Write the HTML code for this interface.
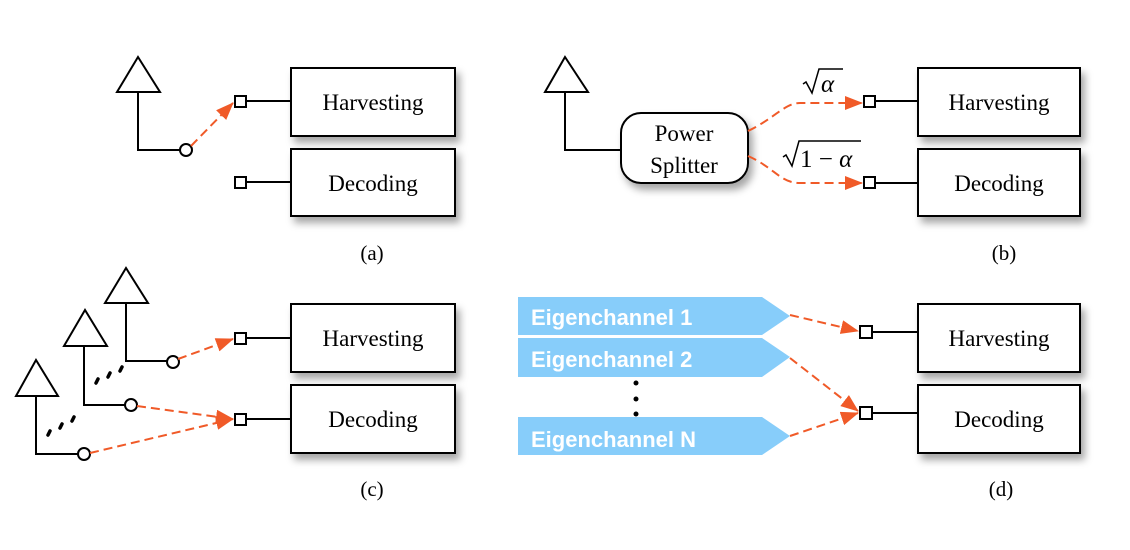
<!DOCTYPE html>
<html><head><style>body{margin:0;background:#fff}svg{display:block}</style></head><body>
<svg width="1130" height="550" viewBox="0 0 1130 550" xmlns="http://www.w3.org/2000/svg">
<defs>
<marker id="ar2" markerWidth="18" markerHeight="14" refX="17" refY="7" orient="auto" markerUnits="userSpaceOnUse" viewBox="0 0 18 14"><path d="M0,0 L18,7 L0,14 z" fill="#f05a28"/></marker>
<filter id="sh" x="-20%" y="-20%" width="150%" height="160%"><feDropShadow dx="4" dy="6" stdDeviation="4" flood-color="#000" flood-opacity="0.35"/></filter>
</defs>
<g font-family="Liberation Serif, serif" font-size="23" fill="#000">
<g fill="#fff" stroke="#000" stroke-width="2" filter="url(#sh)">
<rect x="291" y="68" width="164" height="68"/><rect x="291" y="149" width="164" height="67"/>
<rect x="918" y="68" width="162" height="68"/><rect x="918" y="149" width="162" height="67"/>
<rect x="291" y="304" width="164" height="68"/><rect x="291" y="385" width="164" height="68"/>
<rect x="918" y="304" width="162" height="68"/><rect x="918" y="385" width="162" height="68"/>
<rect x="621" y="113" width="127" height="70" rx="20"/>
</g>
<g text-anchor="middle">
<text x="373" y="110">Harvesting</text><text x="373" y="191">Decoding</text>
<text x="999" y="110">Harvesting</text><text x="999" y="191">Decoding</text>
<text x="373" y="346">Harvesting</text><text x="373" y="427">Decoding</text>
<text x="999" y="346">Harvesting</text><text x="999" y="427">Decoding</text>
<text x="684" y="141">Power</text><text x="684" y="173">Splitter</text>
<text x="372" y="260" font-size="21">(a)</text><text x="1004" y="260" font-size="21">(b)</text>
<text x="372" y="496" font-size="21">(c)</text><text x="1001" y="496" font-size="21">(d)</text>
</g>
<g fill="none" stroke="#000" stroke-width="2">
<path d="M138,57 L117,92 L160,92 Z M138,92 V150 H180"/><circle cx="186" cy="150" r="6" fill="#fff"/>
<rect x="235" y="96" width="11" height="11"/><path d="M246,101 H291"/>
<rect x="235" y="177" width="11" height="11"/><path d="M246,182 H291"/>
<path d="M565,57 L545,92 L588,92 Z M565,92 V150 H621"/>
<rect x="864" y="96" width="11" height="11"/><path d="M875,101 H918"/>
<rect x="864" y="177" width="11" height="11"/><path d="M875,183 H918"/>
<path d="M126,268 L105,303 L148,303 Z M126,303 V361 H167"/><circle cx="173" cy="362" r="6" fill="#fff"/>
<path d="M85,310 L64,346 L107,346 Z M84,346 V405 H125"/><circle cx="131" cy="405" r="6" fill="#fff"/>
<path d="M36,360 L16,396 L58,396 Z M36,396 V454 H78"/><circle cx="84" cy="454" r="6" fill="#fff"/>
<rect x="235" y="333" width="11" height="11"/><path d="M246,338 H291"/>
<rect x="235" y="414" width="11" height="11"/><path d="M246,419 H291"/>
<rect x="860" y="326" width="12" height="12"/><path d="M872,332 H918"/>
<rect x="860" y="407" width="12" height="12"/><path d="M872,413 H918"/>
</g>
<g stroke="#000" stroke-width="3.5" stroke-linecap="round">
<path d="M96,383 l2,-4 M108,377 l2,-4 M120,371 l2,-4"/>
<path d="M48,435 l2,-4 M60,428 l2,-4 M72,421 l2,-4"/>
</g>
<g fill="#000"><circle cx="636" cy="383" r="2.5"/><circle cx="636" cy="399" r="2.5"/><circle cx="636" cy="414" r="2.5"/></g>
<g fill="none" stroke="#f05a28" stroke-width="2" stroke-dasharray="9,5">
<path d="M191,146 L233,103" marker-end="url(#ar2)"/>
<path d="M748,131 C775,118 785,103 800,103 H862" marker-end="url(#ar2)"/>
<path d="M748,156 C775,168 780,183 800,183 H862" marker-end="url(#ar2)"/>
<path d="M178,359 L233,339" marker-end="url(#ar2)"/>
<path d="M137,406 L233,419" marker-end="url(#ar2)"/>
<path d="M90,453 L233,419" marker-end="url(#ar2)"/>
<path d="M790,315 L858,331" marker-end="url(#ar2)"/>
<path d="M790,358 L858,411" marker-end="url(#ar2)"/>
<path d="M790,436 L858,413" marker-end="url(#ar2)"/>
</g>
<g fill="#87cdfa">
<path d="M518,297 H762 L790,316 L762,335 H518 Z"/>
<path d="M518,338 H762 L790,357 L762,377 H518 Z"/>
<path d="M518,417 H762 L790,436 L762,455 H518 Z"/>
</g>
<g font-family="Liberation Sans, sans-serif" font-weight="bold" font-size="22" fill="#fff">
<text x="531" y="325">Eigenchannel 1</text>
<text x="531" y="367">Eigenchannel 2</text>
<text x="531" y="447">Eigenchannel N</text>
</g>
<g font-size="25">
<path d="M803,84 l3,-2 l6,11 l7,-24 h24" fill="none" stroke="#000" stroke-width="1.5"/>
<text x="821" y="92" font-style="italic">α</text>
<path d="M783,157 l3,-2 l6,11 l7,-25 h62" fill="none" stroke="#000" stroke-width="1.5"/>
<text x="800" y="167">1 − <tspan font-style="italic">α</tspan></text>
</g>
</g>
</svg>
</body></html>
